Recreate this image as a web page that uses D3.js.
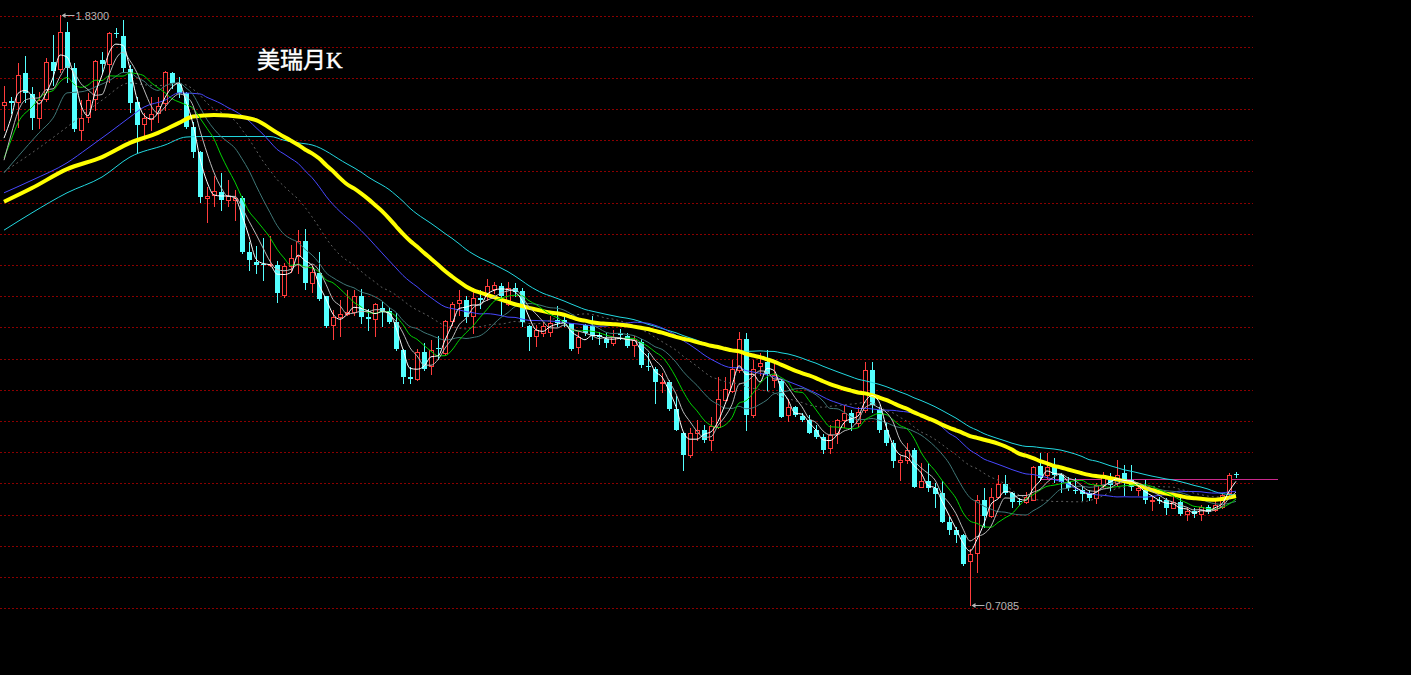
<!DOCTYPE html>
<html><head><meta charset="utf-8">
<script src="https://cdn.jsdelivr.net/npm/d3@7"></script>
<style>html,body{margin:0;padding:0;background:#000;overflow:hidden}svg{display:block}</style>
</head><body>
<svg id="chart" width="1411" height="675"></svg>
<script>
// ---------- data ----------
const title = "美瑞月K";
const highLabel = "1.8300";
const lowLabel = "0.7085";
const priceMin = 0.7085, priceMax = 1.83;
const lastLinePrice = 0.948;
const gridPrices = [1.8300,1.7707,1.7114,1.6521,1.5928,1.5335,1.4742,1.4149,1.3556,1.2963,1.2370,1.1777,1.1184,1.0591,0.9998,0.9405,0.8812,0.8219,0.7626,0.7033];
// monthly candles: [open, high, low, close]
const candles = [
[1.658,1.695,1.611,1.664],[1.667,1.675,1.644,1.663],[1.665,1.738,1.618,1.716],[1.720,1.752,1.665,1.681],[1.679,1.693,1.613,1.634],
[1.634,1.684,1.616,1.668],[1.670,1.748,1.667,1.741],[1.741,1.792,1.697,1.724],[1.728,1.830,1.722,1.797],[1.797,1.817,1.703,1.729],
[1.729,1.738,1.610,1.613],[1.611,1.668,1.592,1.634],[1.636,1.681,1.627,1.668],[1.670,1.745,1.649,1.743],[1.744,1.760,1.722,1.736],
[1.737,1.798,1.703,1.795],[1.796,1.805,1.789,1.793],[1.791,1.820,1.722,1.729],[1.727,1.735,1.646,1.662],[1.665,1.675,1.570,1.621],
[1.622,1.643,1.599,1.635],[1.632,1.675,1.611,1.641],[1.643,1.675,1.627,1.657],[1.662,1.723,1.649,1.721],[1.720,1.722,1.691,1.700],
[1.699,1.713,1.675,1.681],[1.682,1.684,1.615,1.618],[1.618,1.627,1.561,1.570],[1.570,1.572,1.475,1.484],[1.482,1.504,1.437,1.485],
[1.487,1.524,1.467,1.495],[1.493,1.529,1.459,1.478],[1.478,1.517,1.467,1.485],[1.479,1.497,1.440,1.483],[1.483,1.485,1.378,1.380],
[1.380,1.399,1.345,1.364],[1.361,1.390,1.339,1.355],[1.357,1.406,1.326,1.354],[1.354,1.409,1.352,1.357],[1.355,1.362,1.284,1.301],
[1.298,1.359,1.294,1.352],[1.353,1.393,1.342,1.369],[1.372,1.421,1.339,1.400],[1.400,1.423,1.309,1.320],[1.320,1.352,1.304,1.342],
[1.339,1.380,1.288,1.290],[1.295,1.296,1.237,1.239],[1.240,1.269,1.215,1.255],[1.255,1.288,1.219,1.261],[1.262,1.307,1.260,1.266],
[1.266,1.307,1.260,1.296],[1.296,1.309,1.244,1.255],[1.255,1.272,1.231,1.252],[1.252,1.282,1.220,1.280],[1.274,1.285,1.238,1.266],
[1.267,1.274,1.245,1.246],[1.247,1.263,1.193,1.195],[1.193,1.195,1.131,1.141],[1.141,1.161,1.130,1.139],[1.139,1.196,1.136,1.190],
[1.189,1.206,1.155,1.158],[1.163,1.212,1.148,1.193],[1.197,1.219,1.177,1.195],[1.188,1.250,1.186,1.248],[1.249,1.284,1.241,1.281],
[1.282,1.307,1.260,1.288],[1.288,1.295,1.247,1.255],[1.257,1.312,1.225,1.293],[1.293,1.307,1.274,1.288],[1.295,1.328,1.288,1.315],
[1.309,1.323,1.302,1.317],[1.315,1.320,1.260,1.296],[1.281,1.323,1.279,1.311],[1.311,1.321,1.295,1.304],[1.305,1.311,1.239,1.247],
[1.239,1.241,1.193,1.217],[1.219,1.241,1.201,1.231],[1.225,1.246,1.219,1.238],[1.228,1.257,1.219,1.244],[1.250,1.276,1.239,1.245],
[1.250,1.260,1.238,1.245],[1.244,1.245,1.193,1.196],[1.198,1.228,1.188,1.217],[1.241,1.243,1.222,1.225],[1.239,1.257,1.214,1.220],
[1.222,1.228,1.205,1.217],[1.215,1.225,1.199,1.207],[1.207,1.231,1.203,1.217],[1.225,1.234,1.215,1.222],[1.220,1.225,1.199,1.201],
[1.203,1.219,1.182,1.212],[1.209,1.214,1.161,1.165],[1.163,1.187,1.155,1.160],[1.158,1.161,1.092,1.133],[1.130,1.149,1.114,1.133],
[1.133,1.136,1.079,1.081],[1.081,1.106,1.041,1.042],[1.035,1.038,0.965,0.994],[0.994,1.044,0.990,1.035],[1.036,1.060,1.022,1.042],
[1.042,1.051,1.019,1.022],[1.022,1.066,1.003,1.049],[1.046,1.142,1.044,1.101],[1.099,1.141,1.098,1.119],[1.116,1.174,1.114,1.157],
[1.155,1.228,1.152,1.214],[1.214,1.226,1.042,1.070],[1.070,1.174,1.066,1.158],[1.163,1.187,1.146,1.169],[1.170,1.193,1.117,1.148],
[1.136,1.171,1.123,1.146],[1.134,1.138,1.065,1.066],[1.070,1.101,1.059,1.084],[1.084,1.086,1.068,1.070],[1.068,1.073,1.059,1.060],
[1.060,1.070,1.035,1.036],[1.042,1.051,1.025,1.027],[1.027,1.034,0.997,1.004],[1.006,1.051,0.997,1.032],[1.035,1.063,1.016,1.060],
[1.060,1.089,1.047,1.073],[1.073,1.079,1.041,1.054],[1.054,1.085,1.047,1.076],[1.079,1.171,1.076,1.155],[1.155,1.171,1.076,1.089],
[1.079,1.085,1.038,1.041],[1.042,1.054,1.013,1.016],[1.016,1.022,0.971,0.982],[0.981,0.992,0.946,0.984],[0.984,1.016,0.978,1.003],
[1.003,1.006,0.932,0.933],[0.933,0.978,0.932,0.944],[0.944,0.978,0.926,0.930],[0.930,0.940,0.895,0.920],[0.921,0.944,0.866,0.867],
[0.867,0.876,0.843,0.851],[0.851,0.857,0.829,0.842],[0.842,0.843,0.785,0.786],[0.793,0.815,0.7085,0.805],[0.807,0.918,0.772,0.908],
[0.909,0.930,0.857,0.878],[0.878,0.930,0.876,0.914],[0.914,0.956,0.911,0.939],[0.939,0.956,0.920,0.921],[0.921,0.924,0.895,0.905],
[0.907,0.912,0.899,0.904],[0.905,0.924,0.902,0.914],[0.909,0.972,0.908,0.970],[0.973,0.997,0.946,0.949],[0.956,0.997,0.949,0.971],
[0.971,0.987,0.943,0.956],[0.956,0.959,0.924,0.943],[0.943,0.952,0.927,0.930],[0.928,0.949,0.921,0.926],[0.927,0.933,0.908,0.919],
[0.921,0.927,0.909,0.911],[0.911,0.940,0.902,0.937],[0.937,0.962,0.933,0.952],[0.952,0.959,0.927,0.937],[0.941,0.984,0.937,0.956],
[0.959,0.975,0.918,0.943],[0.946,0.975,0.927,0.933],[0.928,0.933,0.918,0.931],[0.927,0.946,0.902,0.908],[0.907,0.914,0.889,0.909],
[0.908,0.914,0.902,0.906],[0.908,0.911,0.881,0.892],[0.893,0.918,0.892,0.905],[0.905,0.911,0.880,0.881],[0.881,0.892,0.870,0.887],
[0.887,0.892,0.875,0.881],[0.881,0.899,0.871,0.895],[0.895,0.899,0.884,0.886],[0.889,0.909,0.888,0.899],[0.895,0.921,0.892,0.918],
[0.921,0.960,0.918,0.956],[0.957,0.962,0.951,0.9568]
];
// moving-average periods
const maPeriods = [3, 5, 8, 13, 21, 30, 40, 50];
const leadMA3  = [[0,1.596],[1,1.634]];
const leadMA5  = [[0,1.554],[1,1.602],[2,1.646],[3,1.668]];
const leadMA8  = [[0,1.558],[1,1.592],[2,1.625],[4,1.655],[6,1.682]];
const leadMA13 = [[0,1.530],[2,1.561],[5,1.606],[7,1.634],[9,1.682],[11,1.684]];
const leadMA21 = [[0,1.532],[4,1.568],[9,1.617],[14,1.668],[18,1.701]];
const leadMA30 = [[0,1.492],[4,1.516],[9,1.549],[12,1.577],[15,1.606],[18,1.636],[20,1.655],[23,1.668],[25,1.682],[28,1.680]];
const leadMA40 = [[0,1.475],[4,1.501],[9,1.537],[14,1.560],[18,1.587],[22,1.606],[25,1.625],[27,1.637],[30,1.640],[34,1.636],[36,1.630]];
const leadMA50 = [[0,1.421],[4,1.454],[9,1.492],[14,1.522],[18,1.560],[23,1.583],[26,1.598],[28,1.599],[35,1.599],[38,1.599],[40,1.592],[42,1.587],[44,1.583]];

// ---------- drawing ----------
const leads = {3:leadMA3,5:leadMA5,8:leadMA8,13:leadMA13,21:leadMA21,30:leadMA30,40:leadMA40,50:leadMA50};
const maStyle = {
  50:{c:"#22d8e0",w:1},
  30:{c:"#4848ff",w:1},
  21:{c:"#5e5e5e",w:1,dash:"2,3"},
  13:{c:"#3f7777",w:1},
  40:{c:"#ffff00",w:4},
  8:{c:"#00d400",w:1},
  5:{c:"#bdbdbd",w:1},
  3:{c:"#ffffff",w:1}
};
const drawOrder = [50,30,21,13,40,8,5,3];

const svg = d3.select("#chart");
svg.append("rect").attr("width",1411).attr("height",675).attr("fill","#000");

const n = candles.length;
const x = d3.scaleLinear().domain([0, n-1]).range([4, 4 + 7*(n-1)]);
const y = d3.scaleLinear().domain([priceMin, priceMax]).range([605, 15]);

// grid via axis
const grid = svg.append("g")
  .call(d3.axisRight(y).tickValues(gridPrices).tickSize(1253).tickFormat(""));
grid.select(".domain").remove();
grid.selectAll("line").attr("stroke","#8a0000").attr("stroke-dasharray","2,2")
  .attr("shape-rendering","crispEdges").attr("transform","translate(0,0.5)");

// current price line
svg.append("line").attr("x1",x(148)).attr("x2",1278)
  .attr("y1",Math.round(y(lastLinePrice))+0.5).attr("y2",Math.round(y(lastLinePrice))+0.5)
  .attr("stroke","#c8288c").attr("stroke-width",1);

// candles
const UP="#ff3c3c", DOWN="#54ffff";
const cg = svg.append("g").attr("shape-rendering","crispEdges");
candles.forEach((d,i)=>{
  const [o,h,l,c] = d;
  const cx = Math.round(x(i));
  const up = c > o;
  const yTop = Math.round(y(Math.max(o,c))), yBot = Math.round(y(Math.min(o,c)));
  const yH = Math.round(y(h)), yL = Math.round(y(l));
  if (up) {
    if (yH < yTop) cg.append("rect").attr("x",cx).attr("y",yH).attr("width",1).attr("height",yTop-yH).attr("fill",UP);
    if (yL > yBot) cg.append("rect").attr("x",cx).attr("y",yBot).attr("width",1).attr("height",yL-yBot+1).attr("fill",UP);
    cg.append("rect").attr("x",cx-1.5).attr("y",yTop+0.5).attr("width",4).attr("height",Math.max(yBot-yTop,1))
      .attr("fill","#000").attr("stroke",UP).attr("stroke-width",1);
  } else {
    cg.append("rect").attr("x",cx).attr("y",yH).attr("width",1).attr("height",Math.max(yL-yH,1)+1).attr("fill",DOWN);
    cg.append("rect").attr("x",cx-2).attr("y",yTop).attr("width",5).attr("height",Math.max(yBot-yTop,1)).attr("fill",DOWN);
  }
});

// moving averages
const closes = candles.map(d=>d[3]);
function maSeries(p){
  const pts = leads[p].slice();
  for (let i=p-1;i<n;i++){
    let s=0; for(let k=i-p+1;k<=i;k++) s+=closes[k];
    pts.push([i, s/p]);
  }
  return pts;
}
const lineGen = d3.line().x(d=>x(d[0])).y(d=>y(d[1])).curve(d3.curveMonotoneX);
drawOrder.forEach(p=>{
  const st = maStyle[p];
  svg.append("path").datum(maSeries(p)).attr("d",lineGen)
    .attr("fill","none").attr("stroke",st.c).attr("stroke-width",st.w)
    .attr("stroke-dasharray",st.dash||null).attr("stroke-linejoin","round");
});

// high / low markers
function marker(idx, price, label){
  const x0 = Math.round(x(idx))+1.5, y0 = Math.round(y(price))+0.5;
  svg.append("line").attr("x1",x0+2).attr("x2",x0+13).attr("y1",y0).attr("y2",y0).attr("stroke","#b4b4b4");
  svg.append("path").attr("d",`M${x0},${y0} l4,-2.5 l0,5 z`).attr("fill","#b4b4b4");
  svg.append("text").attr("x",x0+14).attr("y",y0+4).text(label)
    .attr("fill","#b4b4b4").attr("font-family","Liberation Sans, Arial, sans-serif").attr("font-size",11);
}
let hiIdx = d3.maxIndex(candles, d=>d[1]);
let loIdx = d3.minIndex(candles, d=>d[2]);
marker(hiIdx, candles[hiIdx][1], highLabel);
marker(loIdx, candles[loIdx][2], lowLabel);

// title
svg.append("text").attr("x",257).attr("y",68).text(title)
  .attr("fill","#ffffff").attr("stroke","#ffffff").attr("stroke-width",0.4).attr("font-size",23)
  .attr("font-family","'Liberation Serif','Noto Sans CJK SC',serif");
</script>
</body></html>
